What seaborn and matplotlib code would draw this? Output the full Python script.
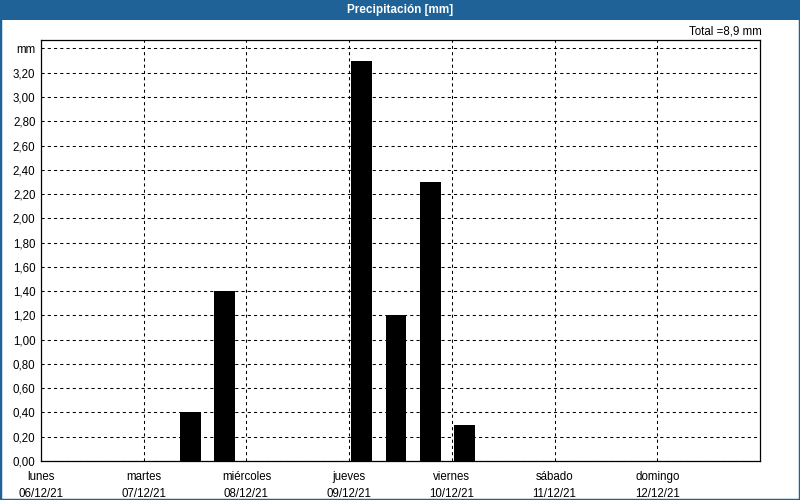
import numpy as np
import pandas as pd
import matplotlib
matplotlib.use("Agg")
import matplotlib.pyplot as plt
from matplotlib.patches import Rectangle
import seaborn as sns

# ---- data ----
day_names = ["lunes", "martes", "miércoles", "jueves", "viernes", "sábado", "domingo"]
day_dates = ["06/12/21", "07/12/21", "08/12/21", "09/12/21", "10/12/21", "11/12/21", "12/12/21"]
bin_start_hours = [32, 40, 72, 80, 88, 96]      # hours since lunes 00:00
precip_mm = [0.4, 1.4, 3.3, 1.2, 2.3, 0.3]
y_ticks = [0.0, 0.2, 0.4, 0.6, 0.8, 1.0, 1.2, 1.4, 1.6, 1.8, 2.0, 2.2, 2.4, 2.6, 2.8, 3.0, 3.2]

sns.set_theme(style="white")
plt.rcParams['font.family'] = ['Liberation Sans', 'DejaVu Sans']

BLUE = "#1e6297"
W, H = 800, 500
FS = 8.3
fig = plt.figure(figsize=(8, 5), dpi=100)
fig.patch.set_facecolor("white")
ax = fig.add_axes([41 / W, 39 / H, 719 / W, 421 / H])

bar_w = 4.9  # hours
df = pd.DataFrame({"hour": np.array(bin_start_hours) + 0.5 + bar_w / 2, "mm": precip_mm})
sns.barplot(data=df, x="hour", y="mm", native_scale=True, width=bar_w / 8,
            color="black", saturation=1, edgecolor="none", linewidth=0, ax=ax)

ax.set_xlim(0, 168)
ax.set_ylim(0, 3.47)
ax.set_xticks(np.arange(0, 168, 24))
ax.set_xticklabels([f"{d}\n{t}" for d, t in zip(day_names, day_dates)], linespacing=1.6)
yt = list(y_ticks) + [3.4]
ax.set_yticks(yt)
ax.set_yticklabels([f"{v:.2f}".replace(".", ",") for v in y_ticks] + ["mm"])
ax.set_xlabel("")
ax.set_ylabel("")

ax.set_axisbelow(True)
ax.grid(True, color="black", linestyle=(0, (3, 3)), linewidth=0.75)
for s in ax.spines.values():
    s.set_color("black")
    s.set_linewidth(0.9)
    s.set_visible(True)
ax.tick_params(axis="both", labelsize=FS, colors="black", pad=3)
ax.tick_params(axis="y", length=0, pad=4)
ax.tick_params(axis="x", length=4, width=0.7, direction="out")
ax.set_facecolor("white")

total = sum(precip_mm)
fig.text(762 / W, 1 - 32 / H, f"Total ={total:.1f} mm".replace(".", ","),
         ha="right", va="center", fontsize=FS, color="black")

fig.add_artist(Rectangle((0, 1 - 20 / H), 1, 20 / H, transform=fig.transFigure,
                         facecolor=BLUE, edgecolor="none"))
fig.text(0.5, 1 - 10 / H, "Precipitación [mm]", ha="center", va="center",
         fontsize=8.5, fontweight="bold", color="white")
fig.add_artist(Rectangle((0, 0), 1, 1, transform=fig.transFigure, fill=False,
                         edgecolor=BLUE, linewidth=2.5))

fig.savefig("out.png", dpi=100)
